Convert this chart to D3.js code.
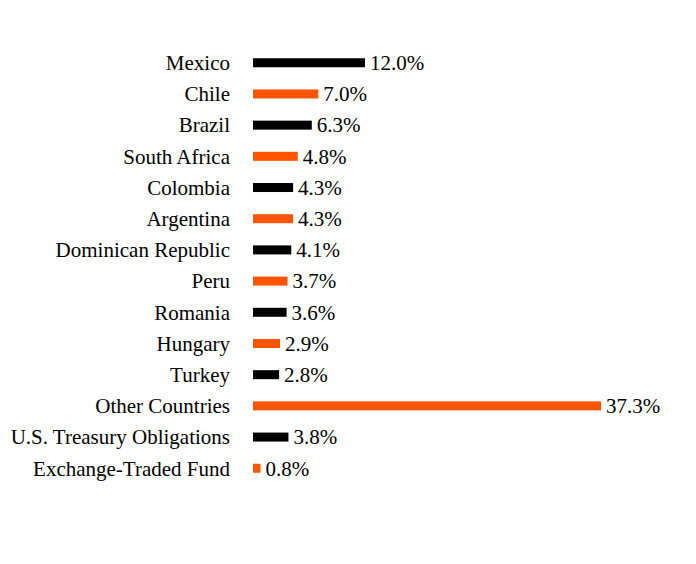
<!DOCTYPE html>
<html><head><meta charset="utf-8">
<script src="https://cdn.jsdelivr.net/npm/d3@7"></script>
<style>body{margin:0;background:#fff}</style>
</head><body>
<script>
const categories = ["Mexico","Chile","Brazil","South Africa","Colombia","Argentina","Dominican Republic","Peru","Romania","Hungary","Turkey","Other Countries","U.S. Treasury Obligations","Exchange-Traded Fund"];
const values = [12.0,7.0,6.3,4.8,4.3,4.3,4.1,3.7,3.6,2.9,2.8,37.3,3.8,0.8];
const colors = ["#000000","#FF5400"];

const W=696,H=564;
const FONT="'Liberation Serif', 'Times New Roman', Times, serif";
const svg=d3.select("body").append("svg").attr("width",W).attr("height",H);
const x=d3.scaleLinear().domain([0,37.3]).range([253,601]);
const y=d3.scaleBand().domain(categories).range([47,484]).paddingInner(0.71).paddingOuter(0.36);
const bh=9;
const rows=svg.selectAll("g.row").data(categories).enter().append("g");
rows.append("rect").attr("x",x(0)).attr("y",d=>y(d)+y.bandwidth()/2-bh/2)
  .attr("width",(d,i)=>x(values[i])-x(0)).attr("height",bh).attr("fill",(d,i)=>colors[i%2]);
rows.append("text").attr("x",230).attr("y",d=>y(d)+y.bandwidth()/2).attr("dy","0.35em")
  .attr("text-anchor","end").attr("font-family",FONT).attr("font-size",21).text(d=>d);
rows.append("text").attr("x",(d,i)=>x(values[i])+5).attr("y",d=>y(d)+y.bandwidth()/2).attr("dy","0.35em")
  .attr("font-family",FONT).attr("font-size",21).text((d,i)=>values[i].toFixed(1)+"%");
</script>
</body></html>
